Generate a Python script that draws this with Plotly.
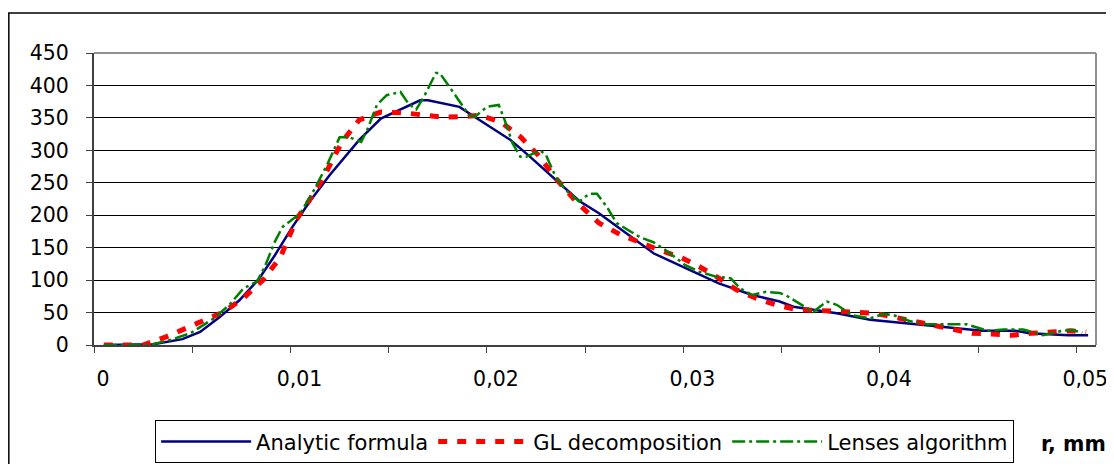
import plotly.graph_objects as go

# ---- data (r in mm) ----
analytic_r = [0.0005, 0.0015, 0.0025, 0.0030, 0.0045, 0.0054, 0.0064, 0.0074, 0.0084, 0.0092,
              0.0101, 0.0110, 0.0120, 0.0135, 0.0146, 0.0156, 0.0166, 0.0170, 0.0186, 0.0195,
              0.0212, 0.0222, 0.0234, 0.0247, 0.0257, 0.0271, 0.0285, 0.0305, 0.0318, 0.0335,
              0.0349, 0.0356, 0.0378, 0.0395, 0.0415, 0.0432, 0.0452, 0.0469, 0.0476, 0.0496, 0.0506]
analytic_v = [0, 0, 0, 1, 9, 20, 43, 69, 102, 138,
              182, 222, 262, 316, 349, 363, 377, 377, 367, 349,
              316, 290, 258, 222, 203, 172, 141, 113, 95, 77,
              67, 59, 49, 39, 33, 28, 22, 22, 18, 15, 15]

gl_r = [0.0005, 0.0015, 0.0025, 0.0037, 0.0047, 0.00565, 0.0066, 0.0076, 0.0086, 0.0095,
        0.0103, 0.0112, 0.0117, 0.0123, 0.0127, 0.0135, 0.0146, 0.0157, 0.0168, 0.0178,
        0.0188, 0.0196, 0.0207, 0.0217, 0.0226, 0.0235, 0.0246, 0.0257, 0.0268, 0.0278,
        0.0288, 0.0298, 0.0308, 0.0317, 0.0327, 0.0337, 0.0347, 0.0357, 0.0368, 0.0377,
        0.0387, 0.0397, 0.0407, 0.0418, 0.0427, 0.0437, 0.0447, 0.0457, 0.0467, 0.0477,
        0.0487, 0.0497, 0.0505]
gl_v = [0, 0, 0, 13, 26, 38, 51, 72, 100, 136,
        193, 234, 259, 295, 316, 347, 359, 358, 354, 351,
        352, 354, 344, 321, 293, 257, 219, 188, 170, 157,
        146, 136, 121, 105, 85, 72, 62, 55, 53, 53,
        50, 49, 43, 36, 29, 23, 18, 17, 15, 18,
        20, 22, 20]

lens_r = [0.0005, 0.0015, 0.00285, 0.0039, 0.0049, 0.0061, 0.0069, 0.0076, 0.0083, 0.0087,
          0.0092, 0.0096, 0.0100, 0.0105, 0.0112, 0.0119, 0.0125, 0.0130, 0.0136, 0.0139,
          0.0144, 0.0149, 0.0156, 0.0160, 0.0164, 0.0168, 0.0171, 0.0174, 0.0176, 0.0181,
          0.0185, 0.0191, 0.0194, 0.0200, 0.0206, 0.0209, 0.0213, 0.0217, 0.0220, 0.0227,
          0.0230, 0.0235, 0.0240, 0.0247, 0.0252, 0.0256, 0.0261, 0.0266, 0.0273, 0.0278,
          0.0285, 0.0291, 0.0301, 0.0308, 0.0317, 0.0324, 0.0329, 0.0335, 0.0342, 0.0349,
          0.0352, 0.0359, 0.0366, 0.0373, 0.0378, 0.0386, 0.0395, 0.0402, 0.0407, 0.0415,
          0.0424, 0.0444, 0.0455, 0.0463, 0.0473, 0.0483, 0.0493, 0.0498, 0.0503]
lens_v = [0, 0, 0, 8, 18, 41, 62, 87, 98, 121,
          159, 182, 191, 203, 239, 280, 320, 320, 313, 331,
          370, 385, 390, 372, 363, 383, 401, 419, 419, 398,
          380, 354, 352, 367, 370, 347, 311, 290, 290, 300,
          293, 259, 239, 221, 233, 233, 213, 188, 175, 166,
          158, 146, 123, 113, 105, 103, 87, 77, 82, 80,
          77, 64, 51, 67, 62, 46, 41, 48, 46, 37,
          32, 32, 22, 24, 24, 15, 22, 23, 19]

names = ["Analytic formula", "GL decomposition", "Lenses algorithm"]
y_ticks = list(range(0, 451, 50))
x_ticks = [0, 0.01, 0.02, 0.03, 0.04, 0.05]

FONT = "DejaVu Sans"

fig = go.Figure()
fig.add_trace(go.Scatter(x=analytic_r, y=analytic_v, mode="lines", name=names[0],
                         line=dict(color="#000080", width=2.5)))
fig.add_trace(go.Scatter(x=gl_r, y=gl_v, mode="lines", name=names[1],
                         line=dict(color="#FF0000", width=5, dash="9px,10px")))
fig.add_trace(go.Scatter(x=lens_r, y=lens_v, mode="lines", name=names[2],
                         line=dict(color="#008000", width=2.5, dash="13px,4px,3px,4px")))

# the page body has an 8px margin, so the figure is sized/offset to compensate
fig.update_layout(
    width=1106, height=456,
    margin=dict(l=86, r=18, t=45, b=119, autoexpand=False),
    paper_bgcolor="white", plot_bgcolor="white",
    separators=", ",
    font=dict(family=FONT, size=20.5, color="black"),
    showlegend=True,
    legend=dict(orientation="h", x=0.061, y=-0.258, xanchor="left", yanchor="top",
                bordercolor="black", borderwidth=1, bgcolor="white",
                font=dict(family=FONT, size=21, color="black"),
                itemwidth=90, tracegroupgap=0, traceorder="normal"),
    xaxis=dict(range=[0, 0.051], tickvals=x_ticks, ticks="outside", ticklen=6,
               tickcolor="#404040", showline=True, linecolor="#404040", linewidth=2,
               showgrid=False, zeroline=False, ticklabelstandoff=8, ticklabelshift=9,
               minor=dict(dtick=0.005, tick0=0, ticks="outside", ticklen=6,
                          tickcolor="#404040", showgrid=False)),
    yaxis=dict(range=[0, 450], tickvals=y_ticks, ticks="outside", ticklen=6,
               tickcolor="#404040", showline=True, linecolor="#404040", linewidth=2,
               showgrid=True, gridcolor="black", gridwidth=1, zeroline=False,
               ticklabelstandoff=13),
    shapes=[
        dict(type="line", xref="paper", yref="paper", x0=0, x1=1, y0=1, y1=1,
             line=dict(color="#909090", width=2)),
        dict(type="line", xref="paper", yref="paper", x0=1, x1=1, y0=0, y1=1,
             line=dict(color="#909090", width=2)),
        dict(type="rect", xref="paper", yref="paper", x0=-0.0850, x1=1.2, y0=-0.6, y1=1.137,
             line=dict(color="black", width=1.5), layer="below"),
    ],
    annotations=[
        dict(text="<b>r, mm</b>", xref="paper", yref="paper", x=1.012, y=-0.338,
             xanchor="right", yanchor="middle", showarrow=False,
             font=dict(family=FONT, size=20.5, color="black")),
    ],
)

fig.write_html("out.html")
